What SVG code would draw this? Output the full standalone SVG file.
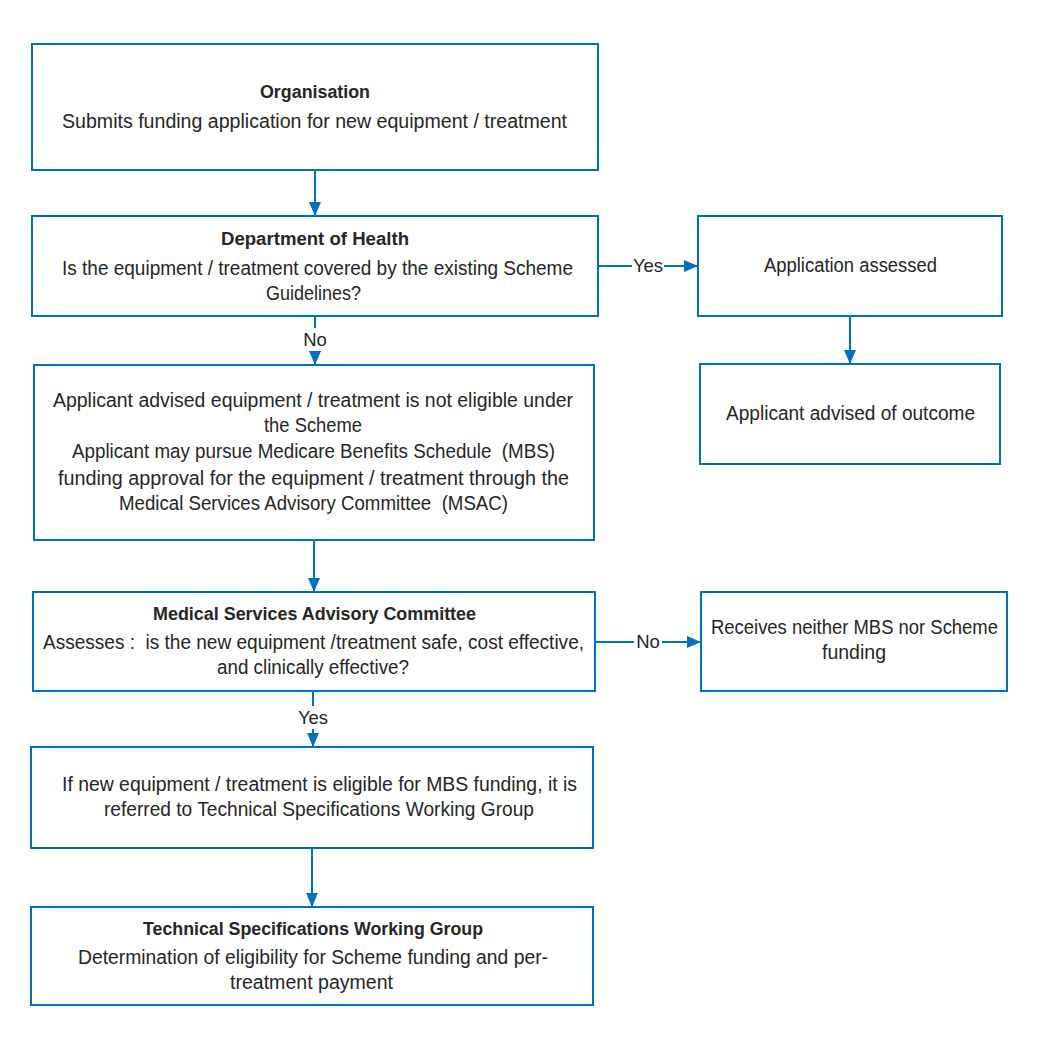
<svg xmlns="http://www.w3.org/2000/svg" width="1039" height="1052" viewBox="0 0 1039 1052">
<defs>
<style>
.box{fill:#fff;stroke:#0070C0;stroke-width:2}
.t{font-family:"Liberation Sans",Arial,sans-serif;font-size:19.4px;fill:#262626;text-anchor:middle;white-space:pre}
.b{font-weight:bold;font-size:18px}
.c{fill:none;stroke:#0070C0;stroke-width:2}
.lbl{font-family:"Liberation Sans",Arial,sans-serif;font-size:18.5px;fill:#262626;text-anchor:middle}
</style>
<marker id="ah" markerUnits="userSpaceOnUse" markerWidth="15" markerHeight="15" viewBox="0 0 15 15" refX="14" refY="7.5" orient="auto">
<path d="M0,1.5 L14,7.5 L0,13.5 Z" fill="#0070C0"/>
</marker>
</defs>
<rect width="1039" height="1052" fill="#fff"/>
<g id="connectors">
<line class="c" x1="315" y1="170" x2="315" y2="216" marker-end="url(#ah)"/>
<line class="c" x1="598" y1="266" x2="632" y2="266"/>
<line class="c" x1="664" y1="266" x2="698" y2="266" marker-end="url(#ah)"/>
<text class="lbl" x="648" y="272">Yes</text>
<line class="c" x1="315" y1="316" x2="315" y2="328"/>
<line class="c" x1="315" y1="351" x2="315" y2="365" marker-end="url(#ah)"/>
<text class="lbl" x="315" y="346">No</text>
<line class="c" x1="850" y1="316" x2="850" y2="364" marker-end="url(#ah)"/>
<line class="c" x1="314" y1="540" x2="314" y2="592" marker-end="url(#ah)"/>
<line class="c" x1="595" y1="642" x2="634" y2="642"/>
<line class="c" x1="662" y1="642" x2="701" y2="642" marker-end="url(#ah)"/>
<text class="lbl" x="648" y="648">No</text>
<line class="c" x1="313" y1="691" x2="313" y2="706"/>
<line class="c" x1="313" y1="729" x2="313" y2="747" marker-end="url(#ah)"/>
<text class="lbl" x="313" y="724">Yes</text>
<line class="c" x1="312" y1="848" x2="312" y2="907" marker-end="url(#ah)"/>
</g>
<g id="organisation">
<rect class="box" x="32" y="44" width="566" height="126"/>
<text class="t b" x="315" y="98" textLength="110" lengthAdjust="spacingAndGlyphs">Organisation</text>
<text class="t" x="314.5" y="128" textLength="505" lengthAdjust="spacingAndGlyphs">Submits funding application for new equipment / treatment</text>
</g>
<g id="dept-health">
<rect class="box" x="32" y="216" width="566" height="100"/>
<text class="t b" x="315" y="245" textLength="188" lengthAdjust="spacingAndGlyphs">Department of Health</text>
<text class="t" x="317.5" y="275" textLength="511" lengthAdjust="spacingAndGlyphs">Is the equipment / treatment covered by the existing Scheme</text>
<text class="t" x="313.5" y="300" textLength="95" lengthAdjust="spacingAndGlyphs">Guidelines?</text>
</g>
<g id="app-assessed">
<rect class="box" x="698" y="216" width="304" height="100"/>
<text class="t" x="850.5" y="272" textLength="173" lengthAdjust="spacingAndGlyphs">Application assessed</text>
</g>
<g id="advised-outcome">
<rect class="box" x="700" y="364" width="300" height="100"/>
<text class="t" x="850.5" y="420" textLength="249" lengthAdjust="spacingAndGlyphs">Applicant advised of outcome</text>
</g>
<g id="not-eligible">
<rect class="box" x="34" y="365" width="560" height="175"/>
<text class="t" x="313" y="407" textLength="520" lengthAdjust="spacingAndGlyphs">Applicant advised equipment / treatment is not eligible under</text>
<text class="t" x="313" y="432" textLength="98" lengthAdjust="spacingAndGlyphs">the Scheme</text>
<text class="t" x="313.5" y="458" textLength="483" lengthAdjust="spacingAndGlyphs">Applicant may pursue Medicare Benefits Schedule  (MBS)</text>
<text class="t" x="313.5" y="485" textLength="511" lengthAdjust="spacingAndGlyphs">funding approval for the equipment / treatment through the</text>
<text class="t" x="313.5" y="510" textLength="389" lengthAdjust="spacingAndGlyphs">Medical Services Advisory Committee  (MSAC)</text>
</g>
<g id="msac">
<rect class="box" x="33" y="592" width="562" height="99"/>
<text class="t b" x="314.5" y="620" textLength="323" lengthAdjust="spacingAndGlyphs">Medical Services Advisory Committee</text>
<text class="t" x="313.5" y="649" textLength="541" lengthAdjust="spacingAndGlyphs">Assesses :  is the new equipment /treatment safe, cost effective,</text>
<text class="t" x="313" y="674" textLength="192" lengthAdjust="spacingAndGlyphs">and clinically effective?</text>
</g>
<g id="no-funding">
<rect class="box" x="701" y="592" width="306" height="99"/>
<text class="t" x="854.5" y="634" textLength="287" lengthAdjust="spacingAndGlyphs">Receives neither MBS nor Scheme</text>
<text class="t" x="854" y="659" textLength="64" lengthAdjust="spacingAndGlyphs">funding</text>
</g>
<g id="eligible-mbs">
<rect class="box" x="31" y="747" width="562" height="101"/>
<text class="t" x="319.5" y="791" textLength="515" lengthAdjust="spacingAndGlyphs">If new equipment / treatment is eligible for MBS funding, it is</text>
<text class="t" x="319" y="816" textLength="430" lengthAdjust="spacingAndGlyphs">referred to Technical Specifications Working Group</text>
</g>
<g id="tswg">
<rect class="box" x="31" y="907" width="562" height="98"/>
<text class="t b" x="313" y="935" textLength="340" lengthAdjust="spacingAndGlyphs">Technical Specifications Working Group</text>
<text class="t" x="313" y="964" textLength="470" lengthAdjust="spacingAndGlyphs">Determination of eligibility for Scheme funding and per-</text>
<text class="t" x="311.5" y="989" textLength="163" lengthAdjust="spacingAndGlyphs">treatment payment</text>
</g>
</svg>
